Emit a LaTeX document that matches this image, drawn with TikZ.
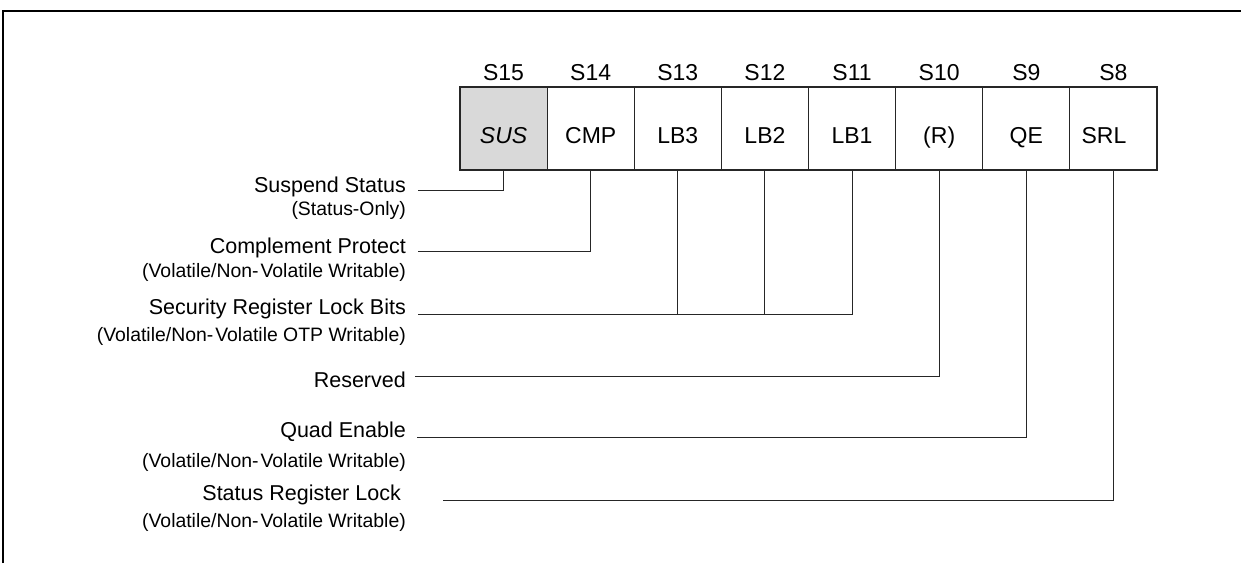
\documentclass[tikz,border=0pt]{standalone}
\usepackage{fontspec}
\setmainfont{Liberation Sans}
\begin{document}
\begin{tikzpicture}[x=1pt,y=-1pt,
  bitbox/.style={draw=black!85, line width=1.2pt, minimum width=87.125pt, minimum height=83pt,
    inner sep=0pt, font=\fontsize{23}{27}\selectfont, text height=29.5pt, text depth=0pt},
  bithead/.style={anchor=base, inner sep=0pt, font=\fontsize{23}{27}\selectfont},
  mainlbl/.style={anchor=base east, inner sep=0pt, font=\fontsize{21.5}{25}\selectfont},
  sublbl/.style={anchor=base east, inner sep=0pt, font=\fontsize{19.4}{22}\selectfont},
  wire/.style={draw=black!85, line width=1pt},
  frameline/.style={draw=black, line width=2.8pt}]
\useasboundingbox (0,0) rectangle (1241,563);
% frame
\draw[frameline] (3,563) -- (3,11) -- (1241,11);
% bit boxes
\node[bitbox, fill=black!15] (b15) at (503.56,128.5) {\itshape SUS};
\node[bitbox] (b14) at (590.69,128.5) {CMP};
\node[bitbox] (b13) at (677.81,128.5) {LB3};
\node[bitbox] (b12) at (764.94,128.5) {LB2};
\node[bitbox] (b11) at (852.06,128.5) {LB1};
\node[bitbox] (b10) at (939.19,128.5) {(R)};
\node[bitbox] (b9) at (1026.31,128.5) {QE};
\node[bitbox] (b8) at (1113.44,128.5) {SRL\hspace*{19pt}};
% headers
\node[bithead] (h15) at (503.56,80) {S15};
\node[bithead] (h14) at (590.69,80) {S14};
\node[bithead] (h13) at (677.81,80) {S13};
\node[bithead] (h12) at (764.94,80) {S12};
\node[bithead] (h11) at (852.06,80) {S11};
\node[bithead] (h10) at (939.19,80) {S10};
\node[bithead] (h9) at (1026.31,80) {S9};
\node[bithead] (h8) at (1113.44,80) {S8};
% labels
\node[mainlbl] (lsus) at (406,192.3) {Suspend Status};
\node[sublbl] (ssus) at (406,215) {(Status-Only)};
\node[mainlbl] (lcmp) at (406,253.3) {Complement Protect};
\node[sublbl] (scmp) at (406,277.5) {(Volatile/Non-\kern2pt Volatile Writable)};
\node[mainlbl] (llb) at (406,314) {Security Register Lock Bits};
\node[sublbl] (slb) at (406,341) {(Volatile/Non-\kern2pt Volatile OTP Writable)};
\node[mainlbl] (lres) at (406,387.3) {Reserved};
\node[mainlbl] (lqe) at (406,437.3) {Quad Enable};
\node[sublbl] (sqe) at (406,467.5) {(Volatile/Non-\kern2pt Volatile Writable)};
\node[mainlbl] (lsrl) at (401,500.5) {Status Register Lock};
\node[sublbl] (ssrl) at (406,527) {(Volatile/Non-\kern2pt Volatile Writable)};
% wire end points
\coordinate (esus) at (418,190.7);
\coordinate (ecmp) at (418,251.7);
\coordinate (elb) at (418,314);
\coordinate (eres) at (415,376.7);
\coordinate (eqe) at (417,437.3);
\coordinate (esrl) at (443,500);
% connectors
\draw[wire] (b15.south) |- (esus);
\draw[wire] (b14.south) |- (ecmp);
\draw[wire] (b11.south) |- (elb);
\draw[wire] (b13.south) -- (b13.south |- elb);
\draw[wire] (b12.south) -- (b12.south |- elb);
\draw[wire] (b10.south) |- (eres);
\draw[wire] (b9.south) |- (eqe);
\draw[wire] (b8.south) |- (esrl);
\end{tikzpicture}
\end{document}
